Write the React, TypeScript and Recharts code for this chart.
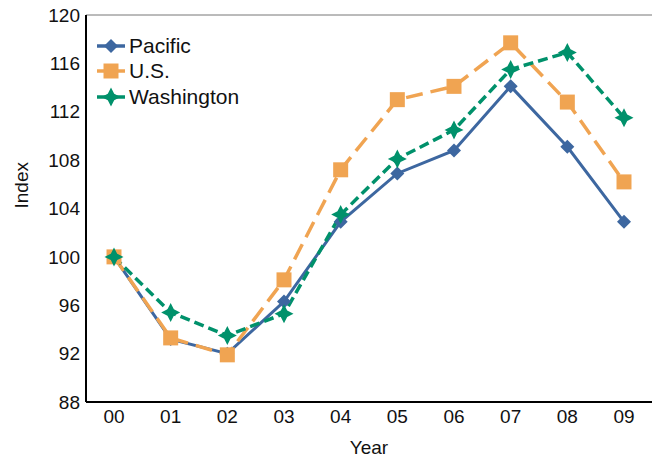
import React from 'react';
import {
    LineChart, Line, XAxis, YAxis, ReferenceLine
} from 'recharts';

const YEARS = ['00', '01', '02', '03', '04', '05', '06', '07', '08', '09'];
const PACIFIC = [100, 93.2, 92.0, 96.3, 102.9, 106.9, 108.8, 114.1, 109.1, 102.9];
const US = [100, 93.3, 91.9, 98.1, 107.2, 113.0, 114.1, 117.7, 112.8, 106.2];
const WASHINGTON = [100, 95.4, 93.5, 95.3, 103.5, 108.1, 110.5, 115.5, 116.9, 111.5];
const Y_TICKS = [88, 92, 96, 100, 104, 108, 112, 116, 120];

const BLUE = '#3D67A0';
const ORANGE = '#F0A452';
const GREEN = '#00916B';
const FONT = '"Liberation Sans", Arial, sans-serif';

const data = YEARS.map((year, i) => ({
    year,
    pacific: PACIFIC[i],
    us: US[i],
    washington: WASHINGTON[i],
}));

type Shape = 'diamond' | 'square' | 'star';

function markerPath(shape: Shape, cx: number, cy: number) {
    if (shape === 'diamond') {
        const r = 7;
        return `M${cx},${cy - r}L${cx + r},${cy}L${cx},${cy + r}L${cx - r},${cy}Z`;
    }
    if (shape === 'square') {
        const h = 7.5;
        return `M${cx - h},${cy - h}H${cx + h}V${cy + h}H${cx - h}Z`;
    }
    // four point star
    const r = 9.5;
    const w = 3.2;
    return `M${cx},${cy - r}L${cx + w},${cy - w}L${cx + r},${cy}L${cx + w},${cy + w}` +
        `L${cx},${cy + r}L${cx - w},${cy + w}L${cx - r},${cy}L${cx - w},${cy - w}Z`;
}

const makeDot = (shape: Shape, color: string) => (props: any) => {
    const { cx, cy, index } = props;
    if (cx == null || cy == null) return <g key={index} />;
    return <path key={index} d={markerPath(shape, cx, cy)} fill={color} />;
};

const LEGEND_ITEMS: { name: string; color: string; shape: Shape }[] = [
    { name: 'Pacific', color: BLUE, shape: 'diamond' },
    { name: 'U.S.', color: ORANGE, shape: 'square' },
    { name: 'Washington', color: GREEN, shape: 'star' },
];

function LegendBox() {
    return (
        <div style={{ position: 'absolute', left: 97, top: 33, fontFamily: FONT, fontSize: 21, color: '#111' }}>
            {LEGEND_ITEMS.map((item) => (
                <div key={item.name} style={{ display: 'flex', alignItems: 'center', height: 25.5 }}>
                    <svg width={30} height={20} style={{ marginRight: 2 }}>
                        <line x1={0} y1={10} x2={28} y2={10} stroke={item.color} strokeWidth={3.5} />
                        <path d={markerPath(item.shape, 14, 10)} fill={item.color} />
                    </svg>
                    <span>{item.name}</span>
                </div>
            ))}
        </div>
    );
}

export default function App() {
    const tick = { fill: '#111', fontSize: 19, fontFamily: FONT };
    return (
        <div style={{ position: 'absolute', left: 0, top: 0, width: 655, height: 458, background: '#fff' }}>
            <LineChart width={655} height={458} data={data} margin={{ top: 15, right: 3, left: 0, bottom: 0 }}>
                <ReferenceLine yAxisId="left" y={120} stroke="#777" strokeWidth={1} />
                <XAxis
                    dataKey="year"
                    height={56}
                    padding={{ left: 28, right: 28 }}
                    tickLine={false}
                    tickSize={0}
                    tickMargin={8}
                    axisLine={{ stroke: '#000', strokeWidth: 2 }}
                    tick={tick}
                    label={{ value: 'Year', position: 'insideBottom', offset: 4, fill: '#111', fontSize: 19, fontFamily: FONT }}
                />
                <YAxis
                    yAxisId="left"
                    domain={[88, 120]}
                    ticks={Y_TICKS}
                    width={86}
                    tickLine={false}
                    tickSize={0}
                    tickMargin={6}
                    axisLine={{ stroke: '#000', strokeWidth: 2 }}
                    tick={tick}
                    label={{ value: 'Index', angle: -90, position: 'insideLeft', offset: 21, fill: '#111', fontSize: 19, fontFamily: FONT }}
                />
                <YAxis
                    yAxisId="right"
                    orientation="right"
                    domain={[88, 120]}
                    width={0}
                    tick={false}
                    tickLine={false}
                    axisLine={{ stroke: '#777', strokeWidth: 1 }}
                />
                <Line
                    yAxisId="left"
                    dataKey="pacific"
                    stroke={BLUE}
                    strokeWidth={3}
                    dot={makeDot('diamond', BLUE)}
                    activeDot={false}
                    isAnimationActive={false}
                />
                <Line
                    yAxisId="left"
                    dataKey="us"
                    stroke={ORANGE}
                    strokeWidth={3.5}
                    strokeDasharray="17 8"
                    dot={makeDot('square', ORANGE)}
                    activeDot={false}
                    isAnimationActive={false}
                />
                <Line
                    yAxisId="left"
                    dataKey="washington"
                    stroke={GREEN}
                    strokeWidth={3.5}
                    strokeDasharray="10 5"
                    dot={makeDot('star', GREEN)}
                    activeDot={false}
                    isAnimationActive={false}
                />
            </LineChart>
            <LegendBox />
        </div>
    );
}
